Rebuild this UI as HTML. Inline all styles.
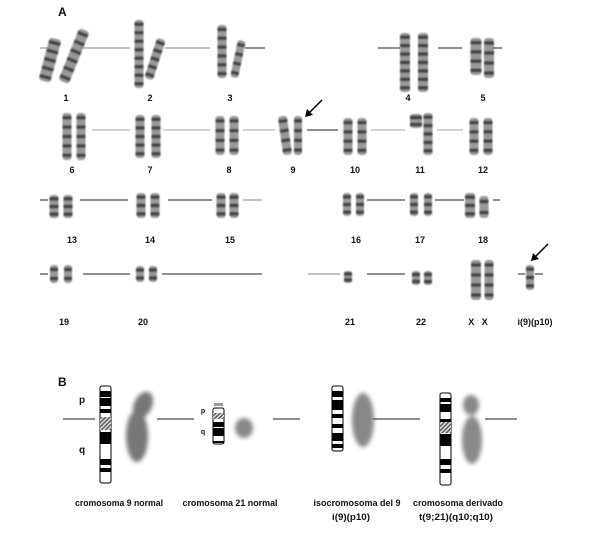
<!DOCTYPE html>
<html><head><meta charset="utf-8"><style>
html,body{margin:0;padding:0;background:#fff;width:604px;height:541px;overflow:hidden}
svg{display:block}
text{font-family:"Liberation Sans",Arial,sans-serif;font-weight:bold;fill:#111}
</style></head><body>
<svg id="s" width="604" height="541" viewBox="0 0 604 541" xmlns="http://www.w3.org/2000/svg">
<defs>
<filter id="bl" x="-50%" y="-50%" width="200%" height="200%"><feGaussianBlur stdDeviation="2"/></filter>
<filter id="b1" x="-50%" y="-50%" width="200%" height="200%"><feGaussianBlur stdDeviation="0.7"/></filter>
<pattern id="hat" width="3" height="3" patternUnits="userSpaceOnUse" patternTransform="rotate(45)"><rect width="3" height="3" fill="#ddd"/><rect width="1.4" height="3" fill="#555"/></pattern>
</defs>
<g id="g"></g>
<text x="58" y="16" font-size="12">A</text>
<text x="58" y="386" font-size="12">B</text>
</svg>
<script>
var g=document.getElementById('g'),h='';
function L(x1,x2,y,c){h+='<line x1="'+x1+'" y1="'+y+'" x2="'+x2+'" y2="'+y+'" stroke="'+(c||'#222')+'" stroke-width="1"/>';}
function C(x,t,b,w,rot){w=w||9;var bands='';var n=Math.max(2,Math.round((b-t)/9));
for(var i=0;i<n;i++){var yy=t+(b-t)*(i+0.5)/n;bands+='<rect x="'+(x-w/2)+'" y="'+(yy-1.8)+'" width="'+w+'" height="3.6" fill="#444"/>';}
h+='<g filter="url(#b1)"'+(rot?' transform="rotate('+rot+' '+x+' '+((t+b)/2)+')"':'')+'><rect x="'+(x-w/2)+'" y="'+t+'" width="'+w+'" height="'+(b-t)+'" rx="3" fill="#999"/>'+bands+'</g>';}
function T(x,y,s,fs,tl){h+='<text x="'+x+'" y="'+y+'" font-size="'+(fs||9)+'" text-anchor="middle"'+(tl?' textLength="'+tl+'" lengthAdjust="spacingAndGlyphs"':'')+'>'+s+'</text>';}
// Row 1
C(50,38,82,12,15);C(74,28,84,11,22);L(40,50,48,'#888');L(80,130,48,'#888');
C(139,20,88,9);C(155,38,80,9,18);L(165,210,48,'#888');
C(222,25,78,9);C(238,40,78,8,12);L(245,265,48);
C(405,33,92,10);C(423,33,92,10);L(378,400,48);L(438,462,48);
C(476,38,75,11);C(489,38,78,10);L(493,502,48);
T(66,101,'1');T(150,101,'2');T(230,101,'3');T(408,101,'4');T(483,101,'5');
// Row 2
C(67,113,160);C(81,113,160);C(140,115,158);C(156,115,158);C(220,116,155);C(234,116,155);
C(285,116,155,9,-8);C(298,116,155,8);C(348,118,155);C(362,118,155);C(416,114,128,12);C(428,113,155);C(474,118,155);C(488,118,155);
L(92,130,130,'#aaa');L(163,210,130,'#aaa');L(243,275,130,'#aaa');L(307,338,130);L(371,405,130,'#aaa');L(437,463,130,'#aaa');
T(72,173,'6');T(150,173,'7');T(229,173,'8');T(293,173,'9');T(355,173,'10');T(420,173,'11');T(483,173,'12');
// Row 3
C(54,195,218);C(68,195,218);C(141,193,218);C(155,193,218);C(221,193,218);C(234,193,218);
C(347,193,216,8);C(360,193,216,8);C(414,193,216,8);C(428,193,216,8);C(470,193,218,10);C(484,196,218,9);
L(40,48,200);L(80,128,200);L(168,212,200);L(243,262,200,'#888');L(367,405,200);L(435,464,200);L(493,500,200);
T(72,243,'13');T(150,243,'14');T(230,243,'15');T(356,243,'16');T(420,243,'17');T(483,243,'18');
// Row 4
C(54,265,283,8);C(68,265,283,8);C(140,266,282,8);C(153,266,282,8);C(348,271,283,8);C(416,271,285,8);C(428,271,285,8);
C(476,260,300,10);C(489,260,300,9);C(530,265,290,8);
L(40,48,274);L(83,130,274);L(162,262,274);L(308,340,274,'#888');L(367,405,274);L(518,525,274);L(535,543,274);
T(64,325,'19');T(143,325,'20');T(350,325,'21');T(421,325,'22');T(478,325,'X&#160;&#160;&#160;X');T(535,325,'i(9)(p10)');
// arrows
h+='<line x1="322" y1="100" x2="309" y2="113" stroke="#000" stroke-width="1.5"/><polygon points="305,117 307,109 313,115" fill="#000"/>';
h+='<line x1="548" y1="244" x2="535" y2="257" stroke="#000" stroke-width="1.5"/><polygon points="531,261 533,253 539,259" fill="#000"/>';
// Section B ideograms
function I(x,t,b,bands,hat){var w=11;var s='<rect x="'+x+'" y="'+t+'" width="'+w+'" height="'+(b-t)+'" rx="2" fill="#fff" stroke="#000" stroke-width="1"/>';
bands.forEach(function(p){s+='<rect x="'+x+'" y="'+p[0]+'" width="'+w+'" height="'+p[1]+'" fill="#000"/>';});
if(hat)s+='<rect x="'+x+'" y="'+hat[0]+'" width="'+w+'" height="'+hat[1]+'" fill="url(#hat)"/>';h+=s;}
I(100,386,483,[[391,6],[398,8],[409,4],[432,12],[459,6],[468,4]],[417,13]);
I(213,408,444,[[422,5],[428,8],[441,2]],[413,6]);
h+='<rect x="214" y="403" width="9" height="3" fill="#999"/>';
I(332,386,451,[[391,6],[400,10],[414,4],[424,4],[433,8],[444,4]]);
I(440,393,485,[[398,4],[404,8],[419,3],[434,12],[459,6],[469,4]],[422,11]);
// blobs
h+='<g filter="url(#bl)" fill="#777"><ellipse cx="143" cy="405" rx="9" ry="14" transform="rotate(25 143 405)"/><ellipse cx="137" cy="436" rx="11" ry="26"/></g>';
h+='<g filter="url(#bl)" fill="#888"><ellipse cx="244" cy="428" rx="9" ry="10"/></g>';
h+='<g filter="url(#bl)" fill="#888"><ellipse cx="363" cy="420" rx="11" ry="27"/></g>';
h+='<g filter="url(#bl)" fill="#888"><ellipse cx="471" cy="405" rx="8" ry="10"/><ellipse cx="472" cy="440" rx="10" ry="24"/></g>';
L(63,95,419);L(157,194,419);L(273,300,419);L(373,420,419);L(485,517,419);
T(82,403,'p',10);T(82,453,'q',10);T(203,413,'p',7);T(203,434,'q',7);
T(119,506,'cromosoma 9 normal',9,88);T(230,506,'cromosoma 21 normal',9,95);T(357,506,'isocromosoma del 9',9,87);T(351,520,'i(9)(p10)',9,38);
T(458,506,'cromosoma derivado',9,90);T(456,520,'t(9;21)(q10;q10)',9,74);
g.innerHTML=h;
</script>
</body></html>
